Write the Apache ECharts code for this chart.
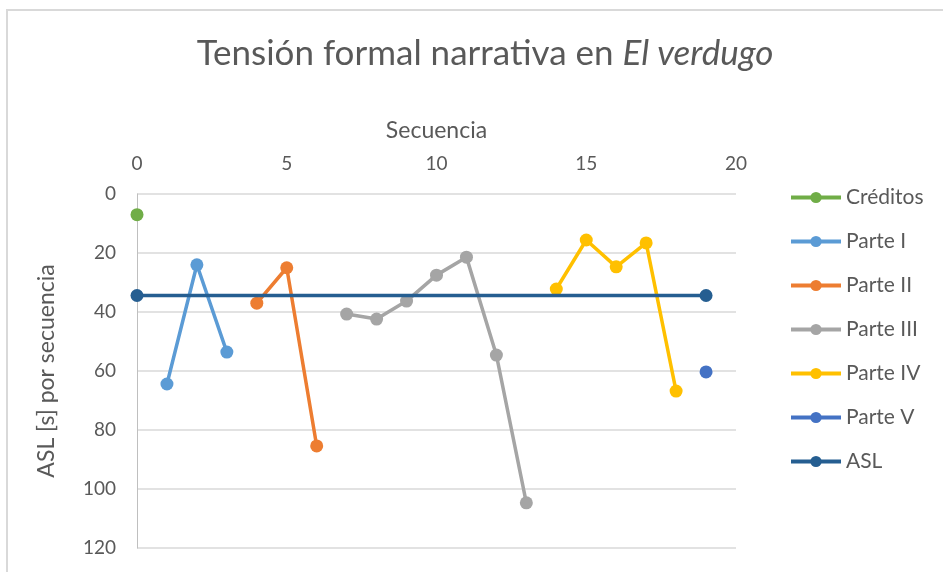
<!DOCTYPE html>
<html>
<head>
<meta charset="utf-8">
<script src="https://cdn.jsdelivr.net/npm/echarts@6/dist/echarts.min.js"></script>
<style>
  html, body { margin: 0; padding: 0; background: #fff; }
  #main { width: 943px; height: 572px; }
</style>
</head>
<body>
<div id="main"></div>
<script>
// values
const creditos = [[0, 7]];
const parteI = [[1, 64.4], [2, 24], [3, 53.6]];
const parteII = [[4, 37], [5, 25], [6, 85.4]];
const parteIII = [[7, 40.7], [8, 42.4], [9, 36.3], [10, 27.5], [11, 21.4], [12, 54.6], [13, 104.7]];
const parteIV = [[14, 32.2], [15, 15.6], [16, 24.7], [17, 16.6], [18, 66.8]];
const parteV = [[19, 60.3]];
const asl = [[0, 34.4], [19, 34.4]];

const seriesNames = ['Créditos', 'Parte I', 'Parte II', 'Parte III', 'Parte IV', 'Parte V', 'ASL'];
const seriesData = [creditos, parteI, parteII, parteIII, parteIV, parteV, asl];
const colors = ['#70AD47', '#5B9BD5', '#ED7D31', '#A5A5A5', '#FFC000', '#4472C4', '#255E91'];

const textColor = '#595959';
const font = 'Lato';

var myChart = echarts.init(document.getElementById('main'));

var option = {
    animation: false,
    textStyle: { fontFamily: font },
    title: {
        text: 'Tensión formal narrativa en {i|El verdugo}',
        left: 480,
        top: 31,
        textAlign: 'center',
        textStyle: {
            fontFamily: font,
            fontSize: 35,
            fontWeight: 'normal',
            color: textColor,
            rich: {
                i: { fontFamily: font, fontSize: 35, fontStyle: 'italic', color: textColor }
            }
        }
    },
    graphic: [{
        type: 'rect',
        shape: { x: 7, y: 10, width: 945, height: 570 },
        style: { fill: 'none', stroke: '#d9d9d9', lineWidth: 2 },
        silent: true
    }],
    legend: {
        orient: 'vertical',
        left: 784,
        top: 182,
        itemWidth: 50,
        itemHeight: 14,
        itemGap: 23,
        data: seriesNames,
        lineStyle: { width: 4 },
        textStyle: { fontFamily: font, fontSize: 21, color: textColor }
    },
    grid: { left: 137, right: 207, top: 194, bottom: 24 },
    xAxis: {
        type: 'value',
        position: 'top',
        min: 0,
        max: 20,
        interval: 5,
        name: 'Secuencia',
        nameLocation: 'middle',
        nameGap: 52,
        nameTextStyle: { fontFamily: font, fontSize: 23, color: textColor },
        axisLine: { show: false },
        axisTick: { show: false },
        splitLine: { show: false },
        axisLabel: { fontFamily: font, fontSize: 19, color: textColor, margin: 21 }
    },
    yAxis: {
        type: 'value',
        inverse: true,
        min: 0,
        max: 120,
        interval: 20,
        name: 'ASL [s] por secuencia',
        nameLocation: 'middle',
        nameGap: 79,
        nameTextStyle: { fontFamily: font, fontSize: 23, color: textColor },
        axisLine: { show: true, lineStyle: { color: '#bfbfbf', width: 1 } },
        axisTick: { show: false },
        splitLine: { lineStyle: { color: '#d9d9d9', width: 1.5 } },
        axisLabel: { fontFamily: font, fontSize: 19, color: textColor, margin: 21 }
    },
    series: seriesNames.map((name, i) => ({
        name: name,
        type: 'line',
        data: seriesData[i],
        color: colors[i],
        symbol: 'circle',
        symbolSize: 13,
        showSymbol: true,
        lineStyle: { width: 3.5 },
        z: name === 'ASL' ? 3 : 2
    }))
};
myChart.setOption(option);
</script>
</body>
</html>
